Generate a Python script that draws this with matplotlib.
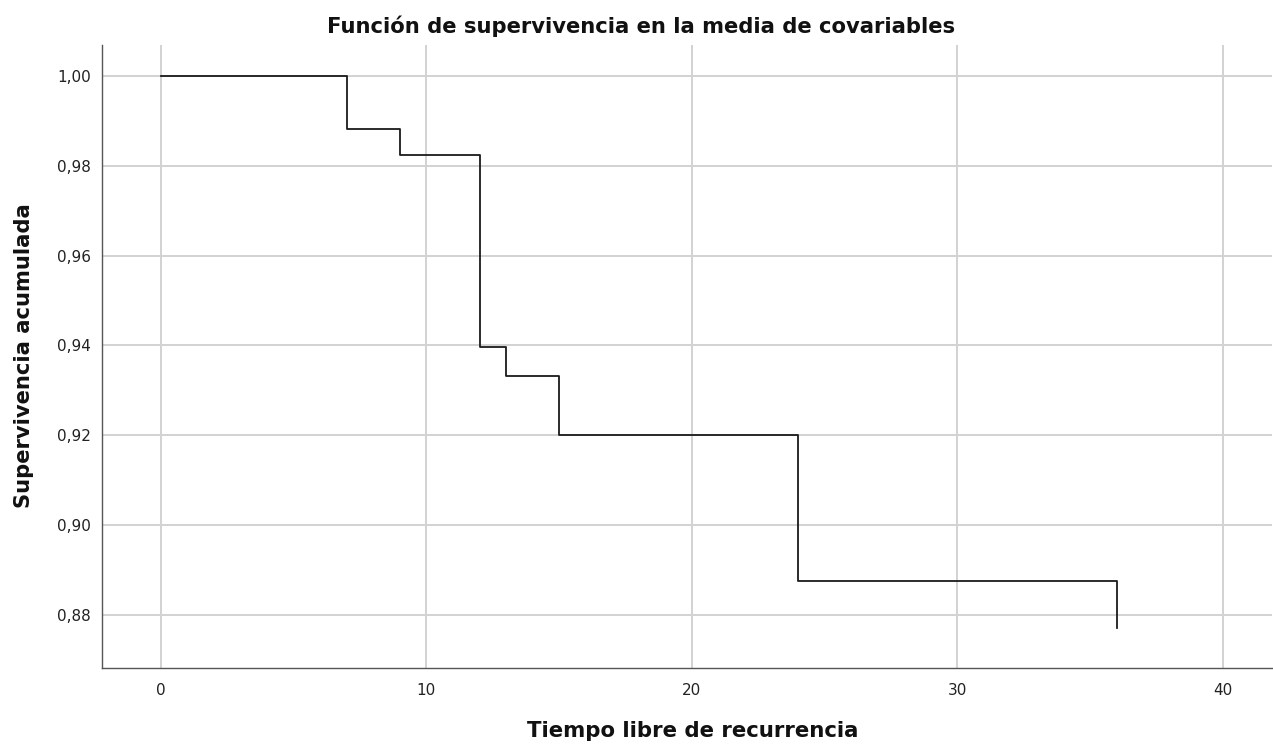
import matplotlib
matplotlib.use("Agg")
import matplotlib.pyplot as plt
from matplotlib.ticker import FuncFormatter, FixedLocator

# Data
times = [0, 7, 9, 12, 13, 15, 24, 36]
survival = [1.0, 0.9882, 0.9824, 0.9396, 0.9332, 0.9201, 0.8875, 0.8770]
x_ticks = [0, 10, 20, 30, 40]
y_ticks = [0.88, 0.90, 0.92, 0.94, 0.96, 0.98, 1.00]

title = "Función de supervivencia en la media de covariables"
xlabel = "Tiempo libre de recurrencia"
ylabel = "Supervivencia acumulada"

plt.rcParams['font.family'] = ['DejaVu Sans']

fig = plt.figure(figsize=(12.73, 7.44), dpi=100)
ax = fig.add_axes([102/1273, 1 - 668/744, (1272-102)/1273, (668-45)/744])

ax.step(times, survival, where='post', color='#1a1a1a', linewidth=1.3, zorder=3)

ax.set_xlim(-2.22, 41.85)
ax.set_ylim(0.8682, 1.0069)

ax.xaxis.set_major_locator(FixedLocator(x_ticks))
ax.yaxis.set_major_locator(FixedLocator(y_ticks))
ax.yaxis.set_major_formatter(FuncFormatter(lambda v, p: f"{v:.2f}".replace('.', ',')))
ax.xaxis.set_major_formatter(FuncFormatter(lambda v, p: f"{v:.0f}"))

ax.grid(True, color='#d2d2d2', linewidth=1.4, zorder=0)
ax.set_axisbelow(True)

for s in ['top', 'right']:
    ax.spines[s].set_visible(False)
for s in ['left', 'bottom']:
    ax.spines[s].set_color('#555555')
    ax.spines[s].set_linewidth(1.0)

ax.tick_params(axis='both', length=0, labelsize=11, labelcolor='#222222')
ax.tick_params(axis='y', pad=8)
ax.tick_params(axis='x', pad=11)

fig.text(641/1273, 1 - 26/744, title, ha='center', va='center',
         fontsize=15.2, fontweight='bold', color='#111111')
fig.text(693/1273, 1 - 731/744, xlabel, ha='center', va='center',
         fontsize=15.3, fontweight='bold', color='#111111')
fig.text(24/1273, 1 - 356/744, ylabel, ha='center', va='center',
         rotation=90, fontsize=15.2, fontweight='bold', color='#111111')

fig.savefig("out.png", dpi=100)
